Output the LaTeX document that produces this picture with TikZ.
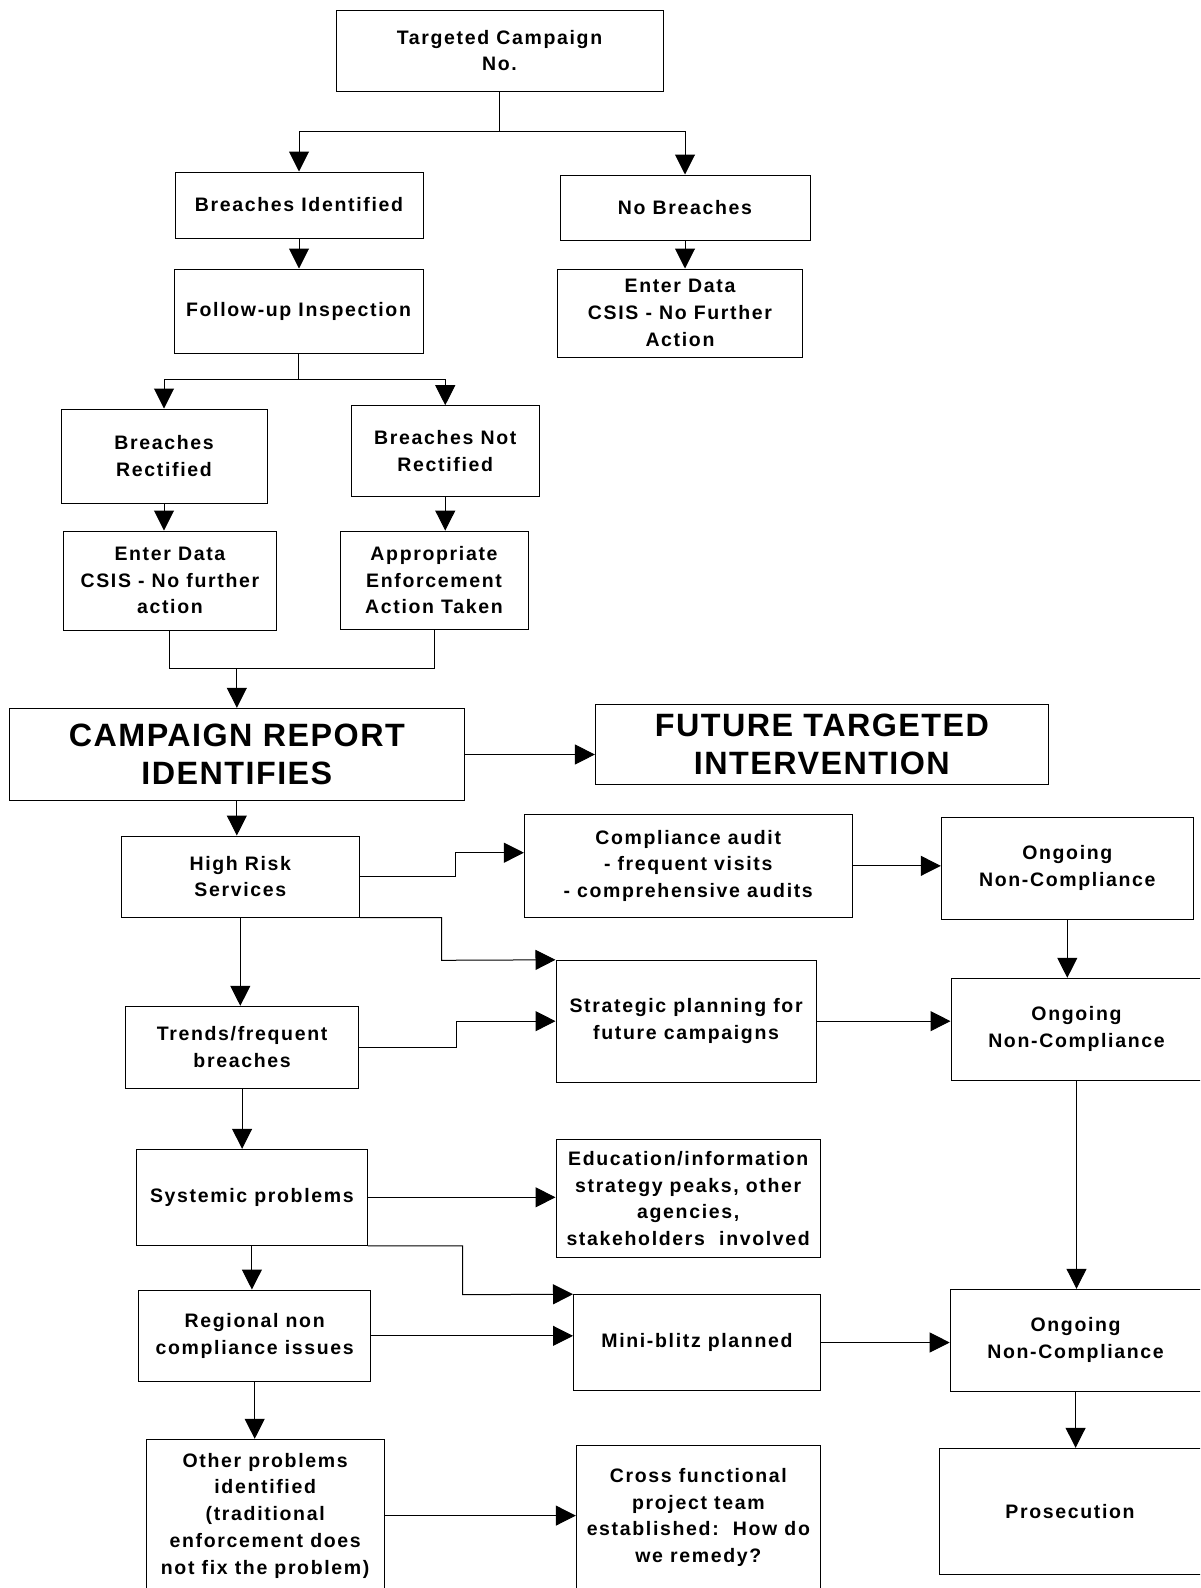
\documentclass[tikz,border=0pt]{standalone}
\usepackage{fontspec}
\usetikzlibrary{arrows.meta}
\newfontfamily\boxfont[LetterSpace=8.5]{Liberation Sans}
\newfontfamily\bigfont[LetterSpace=4.5]{Liberation Sans}
\begin{document}
\begin{tikzpicture}[x=1pt,y=-1pt,
  box/.style={draw, line width=1pt, inner sep=0pt, align=center, rectangle,
    font=\boxfont\bfseries\fontsize{19.5}{26.7}\selectfont},
  bigbox/.style={box, font=\bigfont\bfseries\fontsize{32.3}{38.5}\selectfont},
  conn/.style={line width=1pt},
  arr/.style={conn, -{Triangle[length=20pt,width=20pt]}}]
\path[use as bounding box, clip] (0,0) rectangle (1200,1588);
\fill[white] (0,0) rectangle (1200,1588);

% nodes
\node[box, minimum width=327, minimum height=81] (tc) at (499.5,50.5) {Targeted Campaign\\No.};
\node[box, minimum width=248, minimum height=66] (bi) at (299,205) {Breaches Identified};
\node[box, minimum width=250, minimum height=65] (nb) at (685,207.5) {No Breaches};
\node[box, minimum width=249, minimum height=84] (fu) at (298.5,311) {Follow-up Inspection};
\node[box, minimum width=245.5, minimum height=88] (ed1) at (680,313) {Enter Data\\CSIS - No Further\\Action};
\node[box, minimum width=206, minimum height=94] (br) at (164,456) {Breaches\\Rectified};
\node[box, minimum width=188.5, minimum height=90.3] (bnr) at (445.25,450.85) {Breaches Not\\Rectified};
\node[box, minimum width=212.8, minimum height=99] (ed2) at (169.9,580.5) {Enter Data\\CSIS - No further\\action};
\node[box, minimum width=188, minimum height=98.3] (ae) at (434,580.2) {Appropriate\\Enforcement\\Action Taken};
\node[bigbox, minimum width=455.3, minimum height=92.4] (cr) at (236.85,754.5) {CAMPAIGN REPORT\\IDENTIFIES};
\node[bigbox, minimum width=453, minimum height=80.3] (fti) at (821.9,744.15) {FUTURE TARGETED\\INTERVENTION};
\node[box, minimum width=238.6, minimum height=81] (hrs) at (240.3,876.5) {High Risk\\Services};
\node[box, minimum width=327.6, minimum height=102.3] (ca) at (688.2,865.85) {Compliance audit\\- frequent visits\\- comprehensive audits};
\node[box, minimum width=252, minimum height=101.7] (onc1) at (1067.3,868.15) {Ongoing\\Non-Compliance};
\node[box, minimum width=260.2, minimum height=121.7] (sp) at (686.1,1021.15) {Strategic planning for\\future campaigns};
\node[box, minimum width=233.6, minimum height=82] (tf) at (242.1,1047.3) {Trends/frequent\\breaches};
\node[box, minimum width=251, minimum height=101.7] (onc2) at (1076.5,1029.15) {Ongoing\\Non-Compliance};
\node[box, minimum width=230.8, minimum height=96] (sys) at (251.9,1197.3) {Systemic problems};
\node[box, minimum width=264.4, minimum height=118.4] (edu) at (688.2,1198.5) {Education/information\\strategy peaks, other\\agencies,\\stakeholders\ \ involved};
\node[box, minimum width=232.2, minimum height=91.7] (reg) at (254.7,1335.85) {Regional non\\compliance issues};
\node[box, minimum width=246.9, minimum height=95.6] (mb) at (696.95,1342.5) {Mini-blitz planned};
\node[box, minimum width=250.8, minimum height=101.7] (onc3) at (1075.6,1340.15) {Ongoing\\Non-Compliance};
\node[box, minimum width=237.8, minimum height=152.6] (op) at (265.2,1515.6) {Other problems\\identified\\(traditional\\enforcement does\\not fix the problem)};
\node[box, minimum width=244.1, minimum height=145] (cf) at (698.35,1517.5) {Cross functional\\project team\\established:\ \ How do\\we remedy?};
\node[box, minimum width=262, minimum height=125.7] (pros) at (1070,1511.15) {Prosecution};

% junction coordinates
\coordinate (j1) at (499.5,131.5);
\coordinate (j2) at (298.5,379);
\coordinate (j3) at (236.85,668);
\coordinate (k1) at (455,852.7);
\coordinate (k2) at (441.6,960.3);
\coordinate (k3) at (456.4,1021.15);
\coordinate (k4) at (462.7,1294.7);

% connectors
\draw[conn] (tc.south) -- (j1);
\draw[arr] (j1) -| (bi.north);
\draw[arr] (j1) -| (nb.north);
\draw[arr] (bi.south) -- (bi.south |- fu.north);
\draw[arr] (nb.south) -- (nb.south |- ed1.north);
\draw[conn] (fu.south) -- (j2);
\draw[arr] (j2) -| (br.north);
\draw[arr] (j2) -| (bnr.north);
\draw[arr] (br.south) -- (br.south |- ed2.north);
\draw[arr] (bnr.south) -- (bnr.south |- ae.north);
\draw[conn] (ed2.south) -- (ed2.south |- j3) -- (ae.south |- j3) -- (ae.south);
\draw[arr] (j3) -- (cr.north);
\draw[arr] (cr.east) -- (cr.east -| fti.west);
\draw[arr] (cr.south) -- (cr.south |- hrs.north);
\draw[arr] (hrs.east) -| (k1) -- (k1 -| ca.west);
\draw[arr] (ca.east) -- (ca.east -| onc1.west);
\draw[arr] (hrs.south east) -| (k2) -- (sp.north west);
\draw[arr] (hrs.south) -- (hrs.south |- tf.north);
\draw[arr] (tf.east) -| (k3) -- (sp.west);
\draw[arr] (sp.east) -- (sp.east -| onc2.west);
\draw[arr] (onc1.south) -- (onc1.south |- onc2.north);
\draw[arr] (tf.south) -- (tf.south |- sys.north);
\draw[arr] (sys.east) -- (sys.east -| edu.west);
\draw[arr] (sys.south east) -| (k4) -- (mb.north west);
\draw[arr] (sys.south) -- (sys.south |- reg.north);
\draw[arr] (reg.east) -- (reg.east -| mb.west);
\draw[arr] (mb.east) -- (mb.east -| onc3.west);
\draw[arr] (onc2.south) -- (onc2.south |- onc3.north);
\draw[arr] (onc3.south) -- (onc3.south |- pros.north);
\draw[arr] (reg.south) -- (reg.south |- op.north);
\draw[arr] (op.east) -- (op.east -| cf.west);
\end{tikzpicture}
\end{document}
